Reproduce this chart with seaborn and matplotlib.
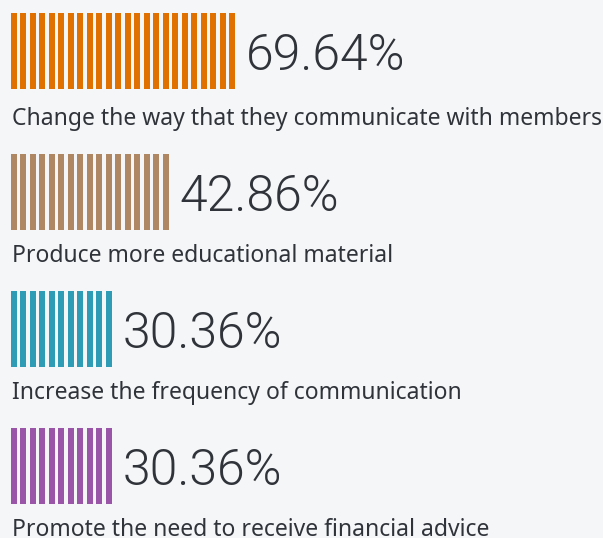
import numpy as np
import pandas as pd
import matplotlib
matplotlib.use('Agg')
import matplotlib.pyplot as plt
import seaborn as sns

# data
categories = [
    "Change the way that they communicate with members",
    "Produce more educational material",
    "Increase the frequency of communication",
    "Promote the need to receive financial advice",
]
values = [69.64, 42.86, 30.36, 30.36]
stripes = [24, 17, 11, 11]   # number of stripes drawn in each pictogram bar
colors = ["#E07000", "#B08763", "#2D9CB4", "#9B55A8"]

BG = "#F5F6F8"
TEXT = "#30343A"

sns.set_theme(style="white")
plt.rcParams['font.family'] = ['Noto Sans', 'DejaVu Sans']

W, H = 603, 538
fig = plt.figure(figsize=(W / 100, H / 100), dpi=100)
fig.patch.set_facecolor(BG)

PERIOD = 9.48        # px between stripe starts
STRIPE_W = 6 / PERIOD
LEFT_PX = 11
tops = [13, 154, 291, 428]
label_gap = [36, 32, 32, 32]   # px from bar bottom to label baseline
BAR_H = 76

x_lo = -STRIPE_W / 2 - LEFT_PX / PERIOD
x_hi = x_lo + W / PERIOD

for cat, val, n, col, top, gap in zip(categories, values, stripes, colors, tops, label_gap):
    ax = fig.add_axes([0, 1 - (top + BAR_H) / H, 1, BAR_H / H])
    ax.set_facecolor(BG)
    df = pd.DataFrame({"stripe": np.arange(n), "h": np.ones(n)})
    sns.barplot(data=df, x="stripe", y="h", native_scale=True, width=STRIPE_W,
                color=col, saturation=1, ax=ax, linewidth=0)
    ax.set_xlim(x_lo, x_hi)
    ax.set_ylim(0, 1)
    ax.axis("off")

    ax.text(n - 1 + STRIPE_W / 2 + 1.1, 0.25, f"{val:.2f}%", fontsize=36,
            family=['Roboto', 'DejaVu Sans'], fontweight=300, color=TEXT,
            va="baseline", ha="left")
    ax.text(x_lo + 12 / PERIOD, -gap / BAR_H, cat, fontsize=16.5, color=TEXT,
            va="baseline", ha="left", clip_on=False)

fig.savefig("out.png", dpi=100, facecolor=BG)
